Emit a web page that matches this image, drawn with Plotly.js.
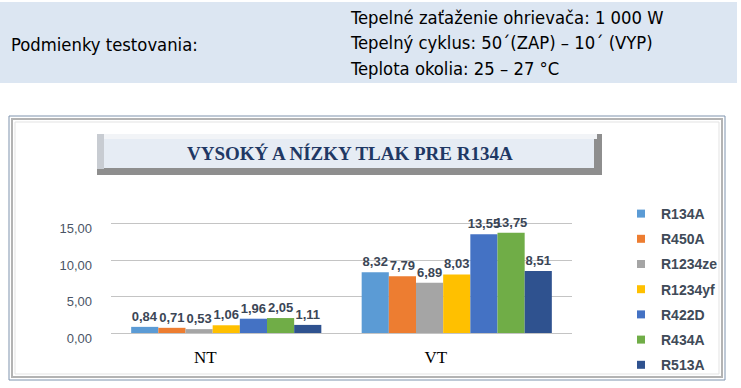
<!DOCTYPE html>
<html>
<head>
<meta charset="utf-8">
<script src="https://cdn.plot.ly/plotly-3.0.1.min.js"></script>
<style>
html,body{margin:0;padding:0;background:#fff;}
#chart{width:741px;height:388px;}
</style>
</head>
<body>
<div id="chart"></div>
<script>
var categories = ["NT", "VT"];
var seriesNames = ["R134A", "R450A", "R1234ze", "R1234yf", "R422D", "R434A", "R513A"];
var R134A   = [0.84, 8.32];
var R450A   = [0.71, 7.79];
var R1234ze = [0.53, 6.89];
var R1234yf = [1.06, 8.03];
var R422D   = [1.96, 13.55];
var R434A   = [2.05, 13.75];
var R513A   = [1.11, 8.51];
var seriesValues = [R134A, R450A, R1234ze, R1234yf, R422D, R434A, R513A];
var seriesColors = ["#5b9bd5", "#ed7d31", "#a5a5a5", "#ffc000", "#4472c4", "#70ad47", "#2f528f"];
var yTicks = [0, 5, 10, 15];
var titleText = "VYSOKÝ A NÍZKY TLAK PRE R134A";
var condLabel = "Podmienky testovania:";
var condLines = ["Tepelné zaťaženie ohrievača: 1 000 W", "Tepelný cyklus: 50´(ZAP) – 10´ (VYP)", "Teplota okolia: 25 – 27 °C"];

var W = 741, H = 388;
var mL = 111, mR = W - 572, mT = 209, mB = H - 333;
var pw = W - mL - mR, ph = H - mT - mB;
function px(x){ return (x - mL) / pw; }
function py(y){ return (H - mB - y) / ph; }

var traces = seriesNames.map(function(n, i){
  return {
    type: "bar",
    name: n,
    x: categories,
    y: seriesValues[i],
    marker: {color: seriesColors[i], line: {width: 0}},
    text: seriesValues[i],
    texttemplate: "%{y:.2f}",
    textposition: "outside",
    constraintext: "none",
    cliponaxis: false,
    textfont: {family: "Liberation Sans, Arial, sans-serif", size: 13, color: "#3b4656", weight: "bold"},
    showlegend: false,
    hoverinfo: "skip"
  };
});
// legend entries with small square symbols
seriesNames.forEach(function(n, i){
  traces.push({
    type: "scatter", mode: "markers", name: n, x: [categories[0]], y: [null],
    marker: {symbol: "square", size: 8, color: seriesColors[i]},
    legendgroup: n, showlegend: true, hoverinfo: "skip"
  });
});

function rect(x0, y0, x1, y1, fill, line, lw){
  return {type: "rect", xref: "paper", yref: "paper", x0: px(x0), x1: px(x1), y0: py(y0), y1: py(y1),
    fillcolor: fill, line: {color: line || "rgba(0,0,0,0)", width: lw || 0}, layer: "below"};
}

var shapes = [
  rect(0, 2, 737, 83, "#dce6f2"),
  rect(9, 116, 725, 380, "#ffffff", "#7f93ad", 1),
  rect(12, 119, 722, 377, "rgba(0,0,0,0)", "#b3b3b3", 2),
  rect(15, 122, 719, 374, "rgba(0,0,0,0)", "#e3e3e3", 1),
  rect(97, 134, 602, 175, "#8e8e8e"),
  rect(97, 134, 597, 139, "#f2f4f7"),
  rect(97, 134, 104, 169, "#c8ccd2"),
  rect(104, 139, 594, 168, "#e6ecf4")
];

var condFont = {family: "DejaVu Sans Condensed, Liberation Sans Narrow, sans-serif", size: 18.3, color: "#000"};
var annotations = [
  {text: condLabel, xref: "paper", yref: "paper", x: px(9), y: py(44), xanchor: "left", yanchor: "middle",
   showarrow: false, font: condFont},
  {text: titleText, xref: "paper", yref: "paper", x: px(350), y: py(153), xanchor: "center", yanchor: "middle",
   showarrow: false, font: {family: "Liberation Serif, Times New Roman, serif", size: 19, color: "#1f3864", weight: "bold"}}
];
condLines.forEach(function(t, i){
  annotations.push({text: t, xref: "paper", yref: "paper", x: px(348), y: py(17 + i * 25.5), xanchor: "left", yanchor: "middle",
    showarrow: false, font: condFont});
});

var layout = {
  width: W, height: H,
  margin: {l: mL, r: mR, t: mT, b: mB, pad: 0, autoexpand: false},
  paper_bgcolor: "#ffffff",
  plot_bgcolor: "rgba(0,0,0,0)",
  separators: ", ",
  barmode: "group",
  bargap: 0.175,
  bargroupgap: 0,
  showlegend: true,
  legend: {x: px(621), y: py(198), xanchor: "left", yanchor: "top", tracegroupgap: 4,
    font: {family: "Liberation Sans, Arial, sans-serif", size: 14, color: "#404a58", weight: "bold"},
    itemwidth: 30, bgcolor: "rgba(0,0,0,0)"},
  xaxis: {type: "category", automargin: false, showgrid: false, zeroline: false, showline: false, ticks: "",
    tickfont: {family: "Liberation Serif, Times New Roman, serif", size: 17, color: "#000"},
    ticklabelshift: -21, ticklabelstandoff: 12, fixedrange: true},
  yaxis: {range: [0, 17], automargin: false, tickvals: yTicks, tickformat: ".2f", showgrid: true, gridcolor: "#c4c4c4", gridwidth: 1,
    zeroline: true, zerolinecolor: "#c4c4c4", showline: false, ticks: "",
    tickfont: {family: "Liberation Sans, Arial, sans-serif", size: 13, color: "#4a5566"},
    ticklabelstandoff: 18, ticklabelshift: 5, fixedrange: true},
  shapes: shapes,
  annotations: annotations
};

Plotly.newPlot("chart", traces, layout, {displayModeBar: false, staticPlot: true});
</script>
</body>
</html>
